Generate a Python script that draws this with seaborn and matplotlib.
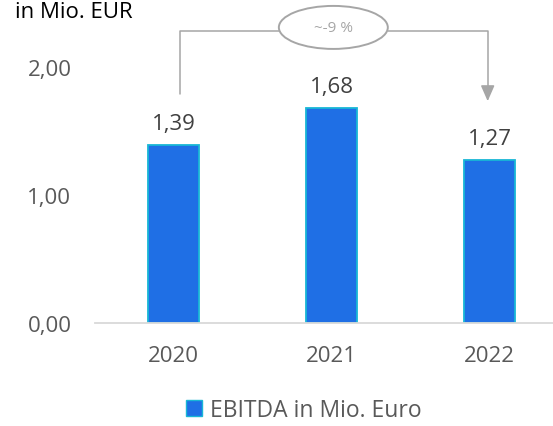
import matplotlib
matplotlib.use("Agg")
import matplotlib.pyplot as plt
import seaborn as sns
import pandas as pd
from matplotlib.patches import Ellipse, Patch

years = ["2020", "2021", "2022"]
ebitda = [1.39, 1.68, 1.27]
value_labels = ["1,39", "1,68", "1,27"]
yticks = [0.0, 1.0, 2.0]
ytick_labels = ["0,00", "1,00", "2,00"]
series_name = "EBITDA in Mio. Euro"
unit_label = "in Mio. EUR"
change_label = "~-9 %"

df = pd.DataFrame({"Jahr": years, "EBITDA": ebitda})

sns.set_theme(style="white")
plt.rcParams["font.family"] = ["Open Sans", "DejaVu Sans"]

W, H = 553, 427
fig = plt.figure(figsize=(W / 100, H / 100), dpi=100)
ax_left, ax_bottom, ax_right, ax_top = 95, 324, 553, 0
ax = fig.add_axes([ax_left / W, (H - ax_bottom) / H, (ax_right - ax_left) / W, (ax_bottom - ax_top) / H])

bar_color = "#1F6FE5"
edge_color = "#18B6D6"
sns.barplot(data=df, x="Jahr", y="EBITDA", color=bar_color, width=0.322,
            edgecolor=edge_color, linewidth=1.3, saturation=1, ax=ax)

ax.set_xlim(-0.496, 2.40)
ax.set_ylim(0, 2.531)
ax.set_yticks(yticks)
ax.set_yticklabels(ytick_labels)
ax.set_xlabel("")
ax.set_ylabel("")
for s in ["top", "right", "left"]:
    ax.spines[s].set_visible(False)
ax.spines["bottom"].set_color("#D9D9D9")
ax.spines["bottom"].set_linewidth(1.3)
ax.tick_params(axis="both", length=0, labelsize=16, colors="#595959")
ax.tick_params(axis="y", pad=17)
ax.tick_params(axis="x", pad=16)

for i, (v, lab) in enumerate(zip(ebitda, value_labels)):
    ax.text(i, v + 0.125, lab, ha="center", va="baseline", fontsize=16, color="#404040")

# bracket annotation
line_c = "#A6A6A6"
yb = 2.281
ax.plot([0.041, 0.041, 0.667], [1.789, yb, yb], color=line_c, lw=1.1, clip_on=False)
ax.plot([1.355, 1.987, 1.987], [yb, yb, 1.80], color=line_c, lw=1.1, clip_on=False)
ax.annotate("", xy=(1.987, 1.711), xytext=(1.987, 1.805),
            arrowprops=dict(arrowstyle="-|>,head_width=0.35,head_length=0.8", color=line_c, lw=1.1))
ell = Ellipse((1.011, 2.309), 0.689, 0.336, facecolor="white", edgecolor=line_c, lw=1.4, clip_on=False)
ax.add_patch(ell)
ax.text(1.011, 2.305, change_label, ha="center", va="center", fontsize=11, color="#A6A6A6")

fig.text(15 / W, 1 - 12 / H, unit_label, ha="left", va="center", fontsize=16, color="#000000")

handle = Patch(facecolor=bar_color, edgecolor=edge_color, linewidth=1.0)
fig.legend([handle], [series_name], loc="center", bbox_to_anchor=(304 / W, 1 - 411 / H),
           frameon=False, fontsize=16.5, handlelength=0.7, handleheight=0.7, handletextpad=0.35,
           labelcolor="#595959")

fig.savefig("out.png", dpi=100)
